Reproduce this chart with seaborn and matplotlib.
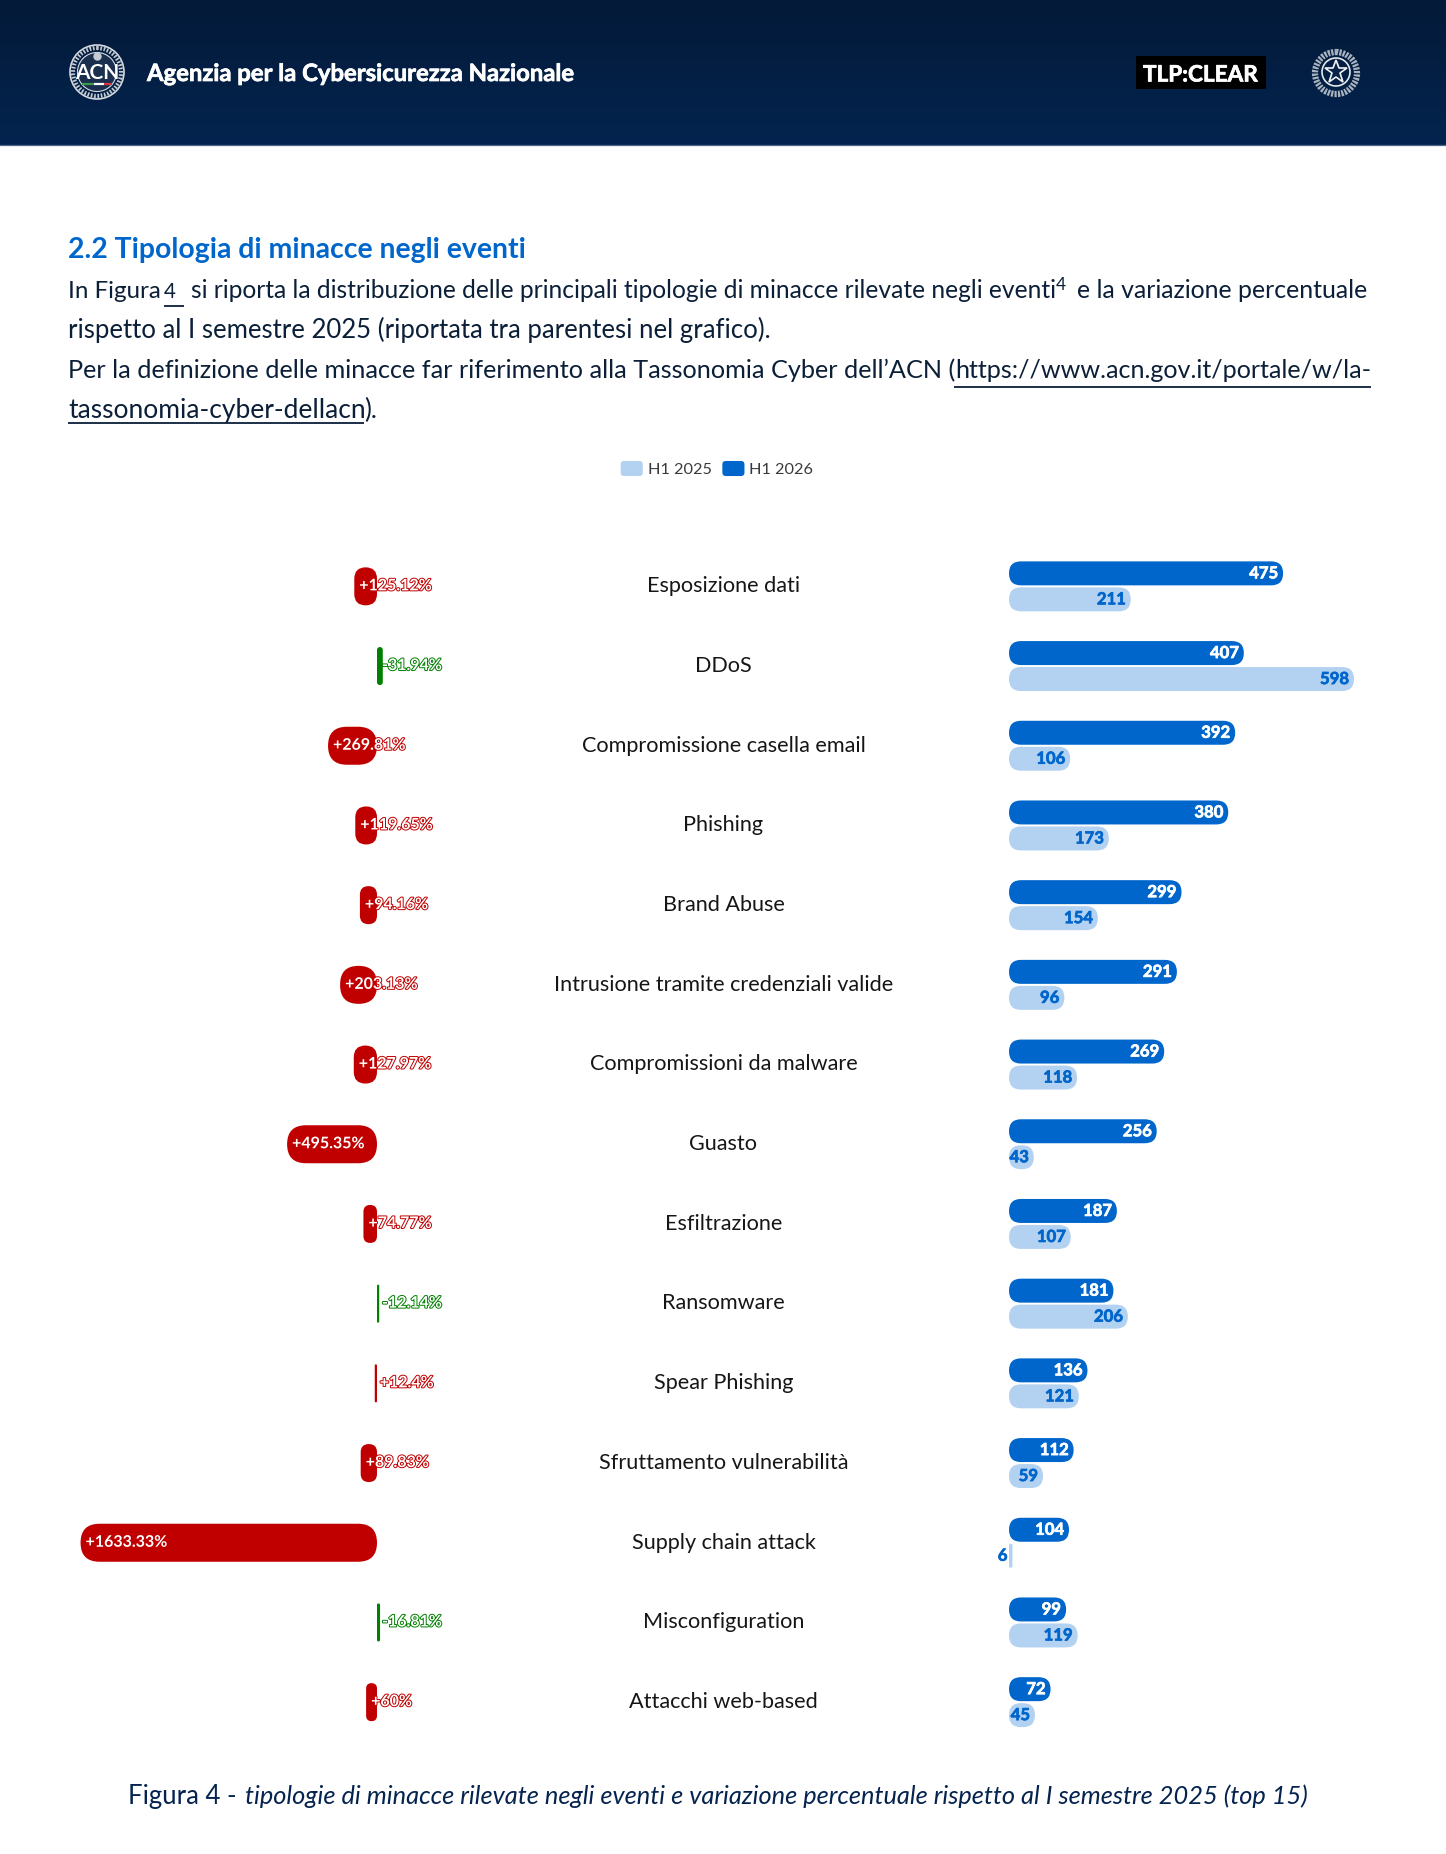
import numpy as np
import pandas as pd
import matplotlib
matplotlib.use("Agg")
import matplotlib.pyplot as plt
import seaborn as sns
from matplotlib.colors import LinearSegmentedColormap
from matplotlib.patches import BoxStyle, Circle, FancyBboxPatch, Patch, Rectangle
from matplotlib.legend_handler import HandlerPatch
from matplotlib.transforms import ScaledTranslation
import matplotlib.patheffects as pe

categories = ["Esposizione dati", "DDoS", "Compromissione casella email", "Phishing",
              "Brand Abuse", "Intrusione tramite credenziali valide",
              "Compromissioni da malware", "Guasto", "Esfiltrazione", "Ransomware",
              "Spear Phishing", "Sfruttamento vulnerabilità", "Supply chain attack",
              "Misconfiguration", "Attacchi web-based"]
h1_2026 = [475, 407, 392, 380, 299, 291, 269, 256, 187, 181, 136, 112, 104, 99, 72]
h1_2025 = [211, 598, 106, 173, 154, 96, 118, 43, 107, 206, 121, 59, 6, 119, 45]
variation = [125.12, -31.94, 269.81, 119.65, 94.16, 203.13, 127.97, 495.35, 74.77,
             -12.14, 12.4, 89.83, 1633.33, -16.81, 60]

W, H, DPI = 1446, 1854, 100
BLUE, LIGHT, RED, GREEN = "#0066cc", "#b3d1f0", "#c00000", "#008000"
INK, NAVY = "#0b1f38", "#04234f"
FONT = "Lato"

sns.set_theme(style="white")
plt.rcParams["font.family"] = [FONT, "DejaVu Sans"]
plt.rcParams["axes.facecolor"] = "none"

fig = plt.figure(figsize=(W / DPI, H / DPI), dpi=DPI, facecolor="white")
renderer = fig.canvas.get_renderer()


def axes_px(left, top, right, bottom, **kw):
    return fig.add_axes([left / W, 1 - bottom / H, (right - left) / W, (bottom - top) / H], **kw)


# ---------- page layer ----------
page = axes_px(0, 0, W, H)
page.set_axis_off()
grad = LinearSegmentedColormap.from_list("hdr", ["#031a38", "#04244f"])
page.imshow(np.linspace(0, 1, 64)[:, None], cmap=grad, extent=(0, W, 144.5, 0), aspect="auto", zorder=0)
page.plot([0, W], [144.5, 144.5], color="#4f6684", lw=0.9, zorder=1)
page.set_xlim(0, W)
page.set_ylim(H, 0)


def fit(x, y, s, width, fs=18, **kw):
    t = page.text(x, y, s, fontsize=fs, va=kw.pop("va", "baseline"), ha="left", **kw)
    t.set_fontsize(fs * width / t.get_window_extent(renderer).width)
    return t


# header
heavy = [pe.withStroke(linewidth=0.5, foreground="white")]
fit(147, 81, "Agenzia per la Cybersicurezza Nazionale", 428, color="white", fontweight="bold", path_effects=heavy)
page.add_patch(Rectangle((1136, 56), 130, 33, fc="black", ec="none", zorder=2))
fit(1143, 81.5, "TLP:CLEAR", 115, color="white", fontweight="bold", zorder=3, path_effects=heavy)

page.add_patch(Circle((97, 72), 27, fc="none", ec="#d6dae0", lw=1.2, zorder=2))
page.add_patch(Circle((97, 72), 24, fc="none", ec="#c6ccd4", lw=3, ls=(0, (0.4, 0.4)), zorder=2))
page.add_patch(Circle((97, 72), 19.5, fc="#1a2f4d", ec="#d6dae0", lw=0.8, zorder=2))
page.text(97, 73, "ACN", color="white", fontsize=15, fontweight="bold", ha="center", va="center", zorder=3)
page.plot([82, 94], [84, 84], color="#3a9a4a", lw=1.6, zorder=3, solid_capstyle="butt")
page.plot([94, 104], [84, 84], color="white", lw=1.6, zorder=3, solid_capstyle="butt")
page.plot([104, 112], [84, 84], color="#d8353a", lw=1.6, zorder=3, solid_capstyle="butt")
page.plot([97], [56], marker="o", ms=5, color="#c6ccd4", zorder=3)

page.add_patch(Circle((1336, 73), 21, fc="none", ec="#aab4c0", lw=4.5, ls=(0, (0.35, 0.2)), zorder=2))
page.add_patch(Circle((1336, 72), 14, fc="none", ec="#e4e8ec", lw=1.2, zorder=2))
page.plot([1336], [72], marker="*", ms=17, mfc="#0a2347", mec="#f0f2f4", mew=1.2, zorder=3)

# section text
fit(68, 257.7, "2.2 Tipologia di minacce negli eventi", 460, color=BLUE, fontweight="bold")
fit(68, 297.7, "In Figura", 92, color=INK)
fit(164, 297.7, "4", 12, color=INK)
fit(191, 297.7, "si riporta la distribuzione delle principali tipologie di minacce rilevate negli eventi", 863, color=INK)
fit(1056, 290, "4", 10, color=INK)
fit(1077, 297.7, "e la variazione percentuale", 290, color=INK)
fit(68, 337.7, "rispetto al I semestre 2025 (riportata tra parentesi nel grafico).", 702, color=INK)
fit(68, 377.7, "Per la definizione delle minacce far riferimento alla Tassonomia Cyber dell’ACN (", 886, color=INK)
fit(955, 377.7, "https://www.acn.gov.it/portale/w/la-", 416, color=INK)
fit(68, 418.3, "tassonomia-cyber-dellacn", 296, color=INK)
fit(364, 418.3, ").", 13, color=INK)
for x0, x1, y in [(164, 184, 306), (954, 1371, 386.7), (68, 364, 422.7)]:
    page.plot([x0, x1], [y, y], color=INK, lw=1.3, solid_capstyle="butt")

# caption
fit(128, 1804, "Figura 4 -", 108, color=NAVY)
fit(245, 1804, "tipologie di minacce rilevate negli eventi e variazione percentuale rispetto al I semestre 2025 (top 15)",
    1064, color=NAVY, fontstyle="italic")

# ---------- shared chart geometry ----------
ROW_TOP, ROW_PITCH = 546.5, 79.7
ROW_BOTTOM = ROW_TOP + ROW_PITCH * len(categories)
SY = ROW_PITCH


def round_bars(ax, sx, radius):
    for rect in list(ax.patches):
        x, y, w, h = rect.get_x(), rect.get_y(), rect.get_width(), rect.get_height()
        x0, w = (x + w, -w) if w < 0 else (x, w)
        r = min(radius, w * sx / 2, h * SY / 2)
        ax.add_patch(FancyBboxPatch((x0, y), w, h, boxstyle=BoxStyle("Round", pad=0, rounding_size=r / sx),
                                    mutation_aspect=sx / SY, fc=rect.get_facecolor(), ec="none",
                                    zorder=2, clip_on=False))
        rect.remove()


def clean(ax):
    sns.despine(ax=ax, left=True, bottom=True)
    ax.set_xlabel("")
    ax.set_ylabel("")
    ax.set_xticks([])
    ax.set_ylim(len(categories) - 0.5, -0.5)


# ---------- left chart: percentage variation ----------
SX_L = 0.1815
L_MAX, L_MIN = 1700, -300
ZERO_L = 377
ax_l = axes_px(ZERO_L - L_MAX * SX_L, ROW_TOP, ZERO_L - L_MIN * SX_L, ROW_BOTTOM)
df_var = pd.DataFrame({"category": categories, "variation": variation,
                       "sign": ["up" if v > 0 else "down" for v in variation]})
sns.barplot(data=df_var, y="category", x="variation", hue="sign", hue_order=["up", "down"],
            palette={"up": RED, "down": GREEN}, order=categories, dodge=False, width=0.477,
            saturation=1, legend=False, ax=ax_l)
ax_l.set_xlim(L_MAX, L_MIN)
clean(ax_l)
ax_l.set_yticks([])
round_bars(ax_l, SX_L, 19)
for i, v in enumerate(variation):
    colour = RED if v > 0 else GREEN
    ax_l.annotate(f"{v:+g}%", xy=(max(v, 0), i), xytext=(5, 0), textcoords="offset pixels",
                  ha="left", va="center", color="white", fontsize=11.5, fontweight="bold", zorder=5,
                  path_effects=[pe.withStroke(linewidth=1.4, foreground=colour)])

# ---------- right chart: event counts ----------
SX_R = 0.577
ZERO_R = 1009
R_MAX = 600
ax_r = axes_px(ZERO_R, ROW_TOP, ZERO_R + R_MAX * SX_R, ROW_BOTTOM)
df_counts = pd.DataFrame({"category": categories * 2, "events": h1_2026 + h1_2025,
                          "period": ["H1 2026"] * len(categories) + ["H1 2025"] * len(categories)})
sns.barplot(data=df_counts, y="category", x="events", hue="period", hue_order=["H1 2026", "H1 2025"],
            palette={"H1 2026": BLUE, "H1 2025": LIGHT}, order=categories, width=0.652, gap=0.077,
            saturation=1, legend=False, ax=ax_r)
ax_r.set_xlim(0, R_MAX)
clean(ax_r)
ax_r.set_yticks(range(len(categories)), categories)
ax_r.tick_params(axis="y", length=0, pad=(ZERO_R - 723.5) * 72 / DPI, labelsize=15.6, labelcolor="#161616")
shift_up = ScaledTranslation(0, 2.2 / DPI, fig.dpi_scale_trans)
for lbl in ax_r.get_yticklabels():
    lbl.set_ha("center")
    lbl.set_transform(lbl.get_transform() + shift_up)
round_bars(ax_r, SX_R, 12)
bar_offset = 0.652 / 4
for i, (a, b) in enumerate(zip(h1_2026, h1_2025)):
    for v, dy, colour in [(a, -bar_offset, "white"), (b, bar_offset, BLUE)]:
        ax_r.annotate(str(v), xy=(v, i + dy), xytext=(-5, 0), textcoords="offset pixels",
                      ha="right", va="center", color=colour, fontsize=12, fontweight="bold", zorder=5,
                      annotation_clip=False,
                      path_effects=[pe.withStroke(linewidth=0.5, foreground=colour)])


def rounded_handle(legend, orig_handle, xdescent, ydescent, width, height, fontsize):
    return FancyBboxPatch((-xdescent, -ydescent), width, height,
                          boxstyle=BoxStyle("Round", pad=0, rounding_size=2.5))


ax_r.legend(handles=[Patch(fc=LIGHT, ec="none", label="H1 2025"), Patch(fc=BLUE, ec="none", label="H1 2026")],
            handler_map={Patch: HandlerPatch(patch_func=rounded_handle)}, ncol=2, frameon=False,
            loc="center", bbox_to_anchor=(717 / W, 1 - 469 / H), bbox_transform=fig.transFigure,
            fontsize=11.7, labelcolor="#3a3a3a", handlelength=1.36, handleheight=1.05,
            handletextpad=0.3, columnspacing=0.66, borderpad=0, borderaxespad=0)

fig.savefig("out.png", dpi=DPI, facecolor="white")
